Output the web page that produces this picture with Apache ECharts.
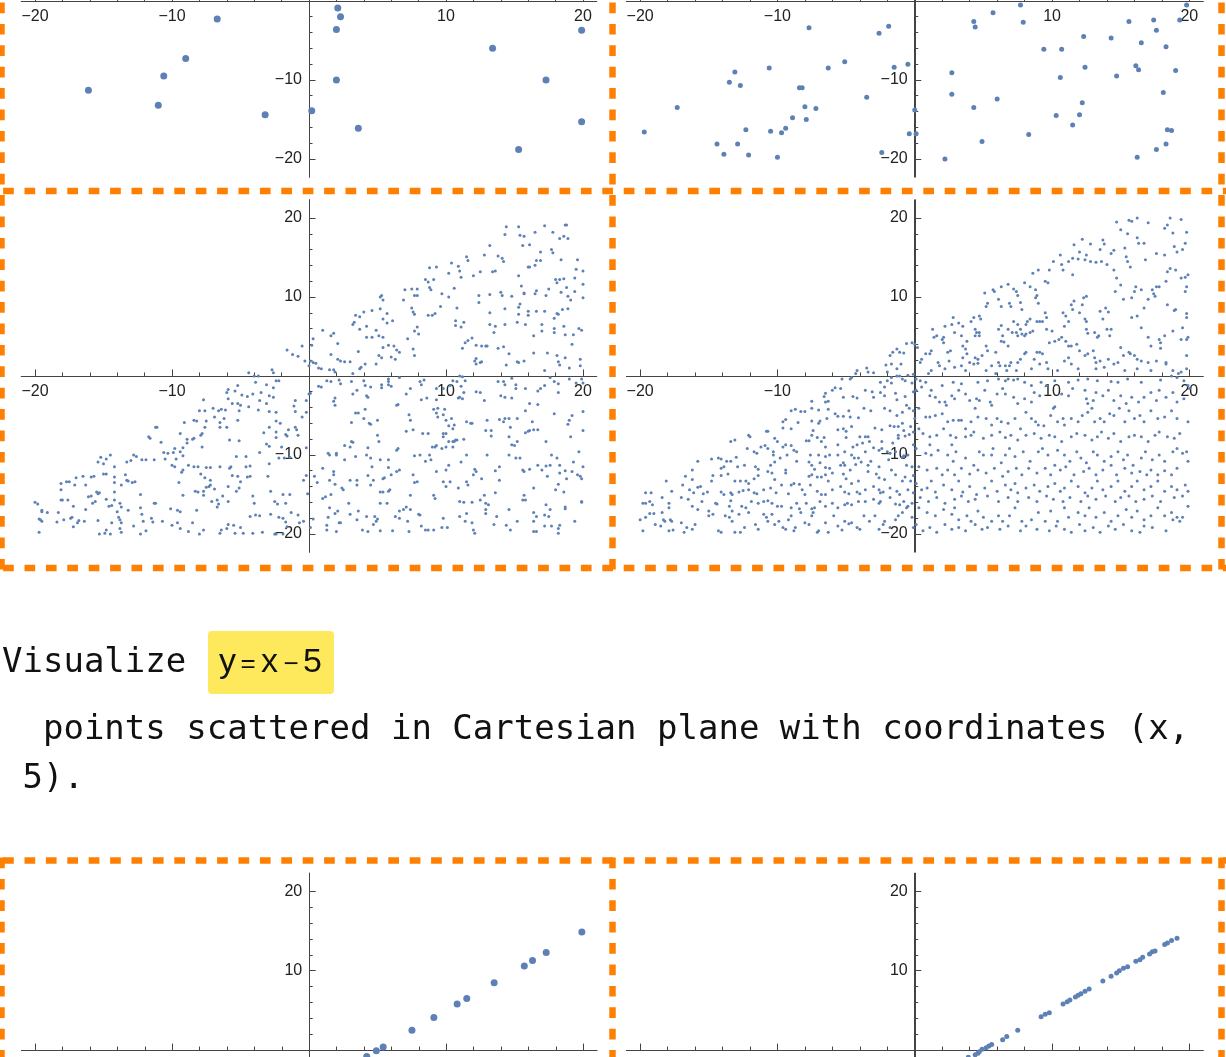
<!DOCTYPE html>
<html><head><meta charset="utf-8">
<script src="https://cdn.jsdelivr.net/npm/echarts@6/dist/echarts.min.js"></script>
<style>html,body{margin:0;padding:0;background:#fff}#c{width:1226px;height:1057px}</style>
</head><body><div id="c"></div>
<script>
// ---------- DATA ----------
const majorTicks = [-20, -10, 10, 20];
const minorTicks = [-18, -16, -14, -12, -8, -6, -4, -2, 2, 4, 6, 8, 12, 14, 16, 18];

const promptWord = 'Visualize';
const promptFormula = ['y', '=', 'x', '\u2212', '5'];
const promptLine2 = '  points scattered in Cartesian plane with coordinates (x,';
const promptLine3 = ' 5).';

// row 1 (only the lower half is visible)
const topLeftPoints = [[-6.7,-2.3],[-9.0,-7.3],[-10.6,-9.5],[-16.1,-11.3],[-11.0,-13.2],[-3.2,-14.4],[0.2,-13.9],[2.1,-0.9],[2.3,-2.0],[2.0,-3.6],[2.0,-10.0],[3.6,-16.1],[13.4,-6.0],[19.9,-3.7],[17.3,-10.0],[19.9,-15.3],[15.3,-18.8]];
const topRightPoints = [[-19.7,-16.6],[-17.3,-13.5],[-14.4,-18.1],[-13.9,-19.4],[-13.5,-10.3],[-13.1,-9.0],[-12.7,-10.7],[-12.9,-18.1],[-12.3,-16.3],[-12.1,-19.5],[-10.6,-8.5],[-10.5,-16.5],[-10.0,-19.8],[-9.7,-16.7],[-9.4,-16.1],[-8.9,-14.8],[-8.4,-11.0],[-8.2,-11.0],[-8.0,-13.4],[-7.9,-15.0],[-7.7,-3.4],[-7.2,-13.6],[-6.3,-8.5],[-5.1,-7.7],[-3.5,-12.2],[-2.6,-4.1],[-1.9,-3.2],[-2.4,-19.2],[-1.5,-8.4],[-0.5,-8.0],[-0.4,-16.8],[0.0,-13.8],[0.1,-16.8],[2.2,-20.0],[2.7,-9.1],[2.7,-11.8],[4.3,-2.6],[4.4,-3.3],[4.3,-13.5],[4.9,-17.8],[5.7,-1.5],[6.0,-12.4],[7.7,-0.5],[7.9,-2.7],[8.3,-16.9],[9.4,-6.1],[10.7,-6.1],[10.6,-9.7],[10.3,-14.5],[11.5,-15.7],[12.0,-14.4],[12.2,-12.9],[12.3,-4.5],[12.4,-8.4],[14.3,-4.7],[14.7,-9.5],[15.6,-2.6],[16.1,-8.2],[16.3,-8.7],[16.5,-5.3],[16.2,-19.8],[17.4,-2.4],[17.6,-3.7],[17.6,-18.8],[18.1,-11.6],[18.3,-5.8],[18.3,-18.1],[18.4,-16.3],[18.7,-16.4],[19.0,-8.8],[19.3,-2.4],[19.8,-0.5]];

// row 2 dense panels: flat [x, y, x, y, ...] lists in tenths of a unit
const denseLeftTenths = [
-5,38,-16,33,-12,27,-8,25,-3,19,0,13,-44,4,-40,0,-37,0,-27,8,-26,4,-24,-6,-22,-6,-39,-8,-31,-11,
-52,-12,-59,-17,-60,-21,-54,-19,-49,-24,-41,-23,-35,-21,-29,-25,-26,-27,-26,-15,-59,-29,-56,-35,-52,-35,-50,-37,-45,-26,-36,-31,-31,-35,-10,-31,-2,-31,-77,-30,-11,-38,
-80,-44,-76,-44,-70,-41,-66,-44,-64,-42,-61,-43,-51,-44,-44,-39,-37,-43,-29,-45,-24,-46,-10,-45,-5,-52,-84,-56,-82,-57,-75,-57,-69,-52,-62,-54,-65,-59,-52,-56,-24,-57,-21,-60,-2,-46,-91,-59,-76,-65,-65,-65,-60,-65,-29,-65,-10,-65,-9,-68,-112,-65,-111,-65,
-117,-77,-116,-79,-108,-84,-94,-73,-89,-80,-85,-80,-84,-79,-79,-75,-78,-73,-78,-90,-58,-81,-51,-82,-33,-72,-24,-71,-17,-74,-16,-76,-24,-78,-15,-68,-8,-75,-98,-92,-92,-91,-89,-85,-31,-86,-29,-89,-20,-90,-2,-91,
-152,-103,-148,-105,-145,-100,-128,-100,-126,-102,-122,-106,-119,-106,-113,-106,-106,-97,-103,-98,-105,-105,-99,-97,-97,-105,-92,-101,-94,-96,-100,-113,-98,-115,-92,-119,-88,-113,-84,-115,-81,-115,-75,-116,-72,-116,-65,-115,-58,-117,-57,-115,-53,-102,-46,-102,-46,-115,-43,-114,-36,-97,-29,-111,-22,-104,-18,-104,-30,-127,-14,-103,-4,-132,-2,-126,-93,-122,-79,-124,-76,-129,-72,-132,-56,-126,-52,-127,-45,-128,-43,-127,-133,-109,-130,-107,-154,-109,-150,-111,-142,-115,-150,-124,-148,-124,-159,-128,-157,-127,-165,-127,-170,-129,-177,-134,-175,-134,-181,-136,-171,-138,-163,-138,-142,-128,-142,-135,-134,-125,-133,-132,-132,-133,-129,-135,-127,-134,-137,-138,-95,-135,-72,-138,-73,-140,-81,-147,-77,-146,-75,-141,-69,-143,-59,-140,-53,-146,-51,-142,-50,-134,
-181,-144,-181,-157,-180,-157,-176,-157,-172,-165,-159,-152,-155,-147,-154,-149,-153,-148,-156,-159,-158,-161,-148,-156,-142,-147,-142,-157,-146,-165,-144,-164,-138,-161,-137,-166,-132,-170,-123,-150,-123,-167,-113,-161,-112,-161,-92,-151,-83,-146,-77,-151,-71,-159,-67,-157,-66,-162,-67,-166,-63,-152,-59,-159,-41,-152,-40,-161,-28,-146,-25,-159,-23,-162,-17,-161,-19,-150,-14,-150,-1,-149,-200,-160,-198,-162,-195,-170,-195,-172,-183,-173,-184,-185,-163,-169,-161,-153,
-197,-181,-196,-182,-195,-184,-191,-173,-197,-198,-179,-182,-174,-180,-173,-179,-172,-191,-169,-186,-168,-183,-164,-184,-154,-183,-140,-172,-139,-179,-138,-182,-137,-186,-144,-186,-148,-195,-149,-199,-145,-200,-153,-200,-138,-193,-137,-198,-128,-190,-123,-200,-121,-184,-122,-175,-119,-196,-115,-180,-114,-185,-107,-184,-101,-168,-96,-170,-94,-172,-100,-189,-96,-186,-94,-193,-88,-197,-85,-186,-82,-170,-80,-200,-77,-195,-65,-199,-64,-195,-60,-193,-59,-188,-55,-189,-50,-192,-54,-199,-48,-199,-43,-178,-39,-176,-36,-177,-41,-199,-34,-198,-28,-175,-25,-200,-22,-179,-19,-180,-17,-185,-16,-191,-13,-173,-8,-176,-7,-186,-4,-184,-19,-200,-24,-200,
144,189,153,189,143,179,154,178,157,177,165,182,172,190,178,182,187,191,188,191,183,174,186,177,189,174,156,165,161,166,132,165,177,160,178,156,169,157,128,153,138,152,141,149,142,145,115,151,116,146,104,143,109,139,110,133,111,125,102,130,120,127,125,132,134,132,136,133,160,138,161,138,166,146,169,146,165,140,184,147,196,147,195,135,200,133,194,124,200,116,180,122,183,122,186,123,181,118,184,106,188,112,189,101,194,107,200,99,191,96,189,85,185,84,181,79,182,78,179,73,175,110,166,108,165,104,173,102,155,114,157,105,157,104,153,127,140,106,141,102,148,101,124,102,124,93,132,103,143,85,154,91,153,87,160,77,166,82,172,82,153,78,160,82,170,65,170,57,179,60,179,55,186,63,187,52,193,52,197,60,199,58,192,40,164,51,158,65,152,68,143,65,132,80,132,65,135,55,136,63,142,37,146,28,164,29,174,29,181,26,187,23,182,18,183,14,190,10,198,21,198,13,172,7,157,19,153,17,152,18,144,14,138,35,129,38,130,38,126,38,125,17,122,22,121,19,122,15,126,18,116,45,114,42,112,35,119,48,122,39,113,68,111,62,107,70,107,64,108,86,106,111,102,100,97,104,96,88,92,79,87,77,90,77,88,112,93,138,88,137,85,122,87,119,89,109,91,122,79,110,75,110,77,102,79,102,70,109,69,96,75,86,76,81,77,78,79,62,77,57,80,53,72,47,76,34,77,26,64,33,66,30,63,21,58,39,62,38,60,24,53,102,52,100,54,96,52,85,57,79,57,67,54,72,61,70,51,51,54,49,54,36,51,26,53,23,49,15,46,83,40,81,37,75,34,77,32,65,33,68,42,63,42,49,49,58,46,49,37,59,36,31,32,3,37,9,38,11,41,15,30,18,21,21,23,19,26,18,16,27,18,54,16,51,21,41,10,58,3,47,2,39,1,19,3,17,5,16,7,10,9,9,15,8,18,8,19,5,
13,-6,16,-7,22,-5,23,-10,7,-13,9,-14,1,-22,0,-23,19,-28,18,-32,19,-37,31,-7,40,-6,41,-12,45,-14,35,-18,32,-23,42,-25,43,-27,58,-4,58,-7,58,-11,60,-13,53,-11,53,-15,66,-2,71,-23,64,-37,65,-36,74,-16,81,-7,84,-5,82,-11,82,-30,86,-28,93,-30,94,-41,91,-42,93,-47,94,-52,99,-42,98,-49,73,-49,74,-56,93,-16,98,-16,103,-12,105,-6,108,-7,110,0,112,-1,114,-6,111,-13,113,-21,110,-27,109,-28,112,-29,122,-20,125,-21,128,-31,138,-7,142,-7,143,-11,151,-11,151,-16,148,-3,140,-25,143,-27,148,-28,158,-16,167,-19,169,-16,172,-12,176,-2,182,-10,182,-21,179,-7,190,-4,195,-9,200,-9,199,-4,161,-35,167,-36,158,-44,179,-48,200,-45,192,-50,190,-56,189,-61,191,-77,200,-69,133,-69,133,-76,130,-56,129,-69,139,-55,143,-54,142,-58,146,-54,152,-54,147,-65,146,-77,146,-100,148,-87,150,-88,152,-83,151,-104,154,-104,158,-72,160,-70,161,-69,163,-58,164,-68,167,-68,173,-83,156,-119,161,-118,167,-113,170,-119,173,-114,177,-100,174,-127,183,-123,187,-120,188,-130,183,-113,193,-109,197,-96,200,-115,192,-121,196,-125,199,-130,198,-127,182,-137,180,-144,186,-147,199,-159,199,-160,187,-166,187,-168,173,-163,176,-169,175,-178,172,-176,166,-178,164,-184,164,-197,166,-197,172,-190,177,-190,182,-193,182,-199,183,-189,194,-184,164,-173,157,-151,158,-157,157,-121,152,-184,147,-195,144,-189,146,-169,139,-132,136,-120,139,-115,136,-148,129,-161,131,-163,129,-169,129,-174,125,-157,121,-118,122,-121,126,-130,120,-125,128,-151,120,-195,121,-199,119,-186,115,-174,114,-184,119,-160,113,-160,110,-159,110,-178,116,-138,115,-134,111,-109,109,-142,115,-100,108,-81,106,-83,107,-81,105,-67,106,-62,100,-73,102,-63,102,-83,105,-90,105,-83,113,-80,118,-60,119,-60,115,-58,100,-56,104,-54,102,-113,100,-119,103,-134,100,-140,98,-134,97,-192,101,-192,98,-180,91,-151,92,-155,93,-121,88,-100,85,-108,89,-106,92,-90,90,-90,93,-88,97,-92,100,-90,98,-77,98,-73,87,-73,83,-73,76,-68,71,-70,81,-100,77,-101,76,-125,79,-134,77,-135,74,-151,71,-166,74,-169,80,-175,81,-176,72,-184,73,-197,82,-190,85,-195,87,-195,91,-195,61,-196,63,-178,66,-180,66,-171,69,-169,57,-161,52,-161,58,-146,59,-144,54,-147,52,-147,54,-130,55,-129,60,-125,64,-121,66,-119,58,-116,65,-92,64,-94,58,-106,52,-106,46,-115,45,-104,51,-83,42,-100,43,-91,44,-60,45,-61,50,-56,50,-75,40,-54,41,-42,31,-59,34,-47,36,-47,26,-88,31,-83,32,-84,30,-90,34,-102,26,-106,20,-100,20,-98,14,-98,15,-100,18,-121,18,-125,19,-137,24,-142,25,-144,15,-132,10,-117,4,-127,6,-135,12,-153,16,-150,10,-155,30,-132,35,-132,35,-138,43,-126,47,-132,45,-138,42,-178,48,-178,50,-181,49,-184,52,-196,47,-188,39,-195,43,-197,36,-171,35,-182,30,-175,29,-161,21,-171,19,-174,15,-167,14,-179,22,-186,23,-186,20,-197,13,-195,13,-189,3,-181,1,-192,135,-188,137,-178,164,-142,156,-157,181,-104,176,-113,130,-100
];

const denseRightTenths = [
-6,41,-2,42,-13,34,-16,30,-11,30,-8,29,-18,26,-21,14,-17,15,-10,15,-13,9,-42,7,-35,10,-34,5,-30,4,-43,3,-20,5,-17,-2,-13,0,-11,0,-9,-4,-5,1,-1,2,-53,-4,-47,-4,-46,-2,-25,-8,-20,-6,-22,-14,-17,-9,-7,-6,-2,-9,
-58,-15,-54,-16,-60,-18,-65,-22,-66,-26,-75,-32,-65,-33,-63,-32,-52,-27,-45,-26,-42,-28,-36,-18,-31,-20,-30,-27,-25,-21,-22,-25,-14,-22,-13,-30,-7,-26,-1,-20,-6,-37,-4,-41,-1,-44,
-90,-44,-87,-42,-83,-45,-80,-45,-75,-41,-70,-43,-63,-42,-58,-48,-56,-51,-52,-51,-48,-44,-47,-52,-41,-53,-37,-41,-32,-44,-22,-41,-18,-44,-13,-50,-9,-46,0,-54,
-96,-58,-94,-55,-96,-66,-90,-67,-85,-59,-75,-57,-70,-60,-69,-57,-64,-54,-56,-68,-52,-67,-50,-70,-46,-64,-40,-77,-36,-77,-34,-77,-29,-66,-24,-68,-18,-63,-15,-64,-12,-64,-9,-60,-8,-69,-3,-64,-1,-71,
-108,-70,-107,-70,-102,-79,-100,-83,-94,-87,-90,-88,-79,-82,-77,-82,-75,-75,-74,-69,-71,-78,-68,-83,-66,-78,-65,-90,-56,-87,-50,-78,-45,-90,-42,-87,-38,-85,-33,-83,-30,-91,-24,-83,-16,-85,-12,-79,-12,-75,-7,-76,-4,-74,-1,-87,
-121,-75,-120,-77,-134,-83,-131,-81,-122,-92,-117,-96,-115,-98,-112,-90,-109,-88,-107,-92,-103,-96,-96,-90,-103,-100,-93,-100,-88,-94,-86,-96,-76,-100,-70,-100,-65,-102,-62,-100,-56,-100,-51,-96,-46,-100,-44,-104,-41,-104,-36,-96,-26,-94,-24,-92,-20,-96,-18,-98,-14,-96,-8,-101,-5,-100,
-148,-105,-143,-104,-141,-105,-137,-108,-134,-108,-158,-108,-130,-103,-141,-117,-139,-115,-129,-115,-124,-113,-116,-115,-114,-118,-105,-113,-102,-109,-98,-104,-94,-119,-86,-108,-77,-109,-75,-113,-73,-118,-69,-110,-65,-116,-62,-117,-54,-113,-52,-110,-51,-113,-47,-119,-43,-112,-39,-109,-34,-113,-32,-108,-26,-115,-19,-106,-17,-119,-9,-103,-6,-113,-2,-115,
-162,-119,-167,-127,-162,-131,-148,-133,-147,-126,-141,-126,-136,-124,-131,-133,-127,-133,-123,-133,-121,-136,-117,-130,-114,-126,-107,-121,-104,-123,-102,-131,-94,-123,-88,-136,-84,-137,-77,-127,-75,-125,-71,-128,-68,-128,-65,-125,-63,-133,-60,-123,-52,-124,-50,-130,-46,-136,-41,-133,-34,-121,-28,-124,-26,-129,-22,-131,-14,-125,-9,-133,-7,-128,-3,-133,-1,-126,
-181,-133,-177,-146,-169,-138,-164,-144,-161,-148,-158,-141,-156,-140,-154,-149,-151,-147,-141,-147,-139,-150,-134,-148,-133,-150,-128,-147,-125,-145,-121,-144,-117,-148,-115,-149,-110,-144,-105,-142,-101,-148,-97,-138,-92,-149,-90,-138,-82,-144,-80,-150,-76,-138,-71,-146,-68,-150,-65,-150,-60,-144,-54,-140,-51,-147,-48,-149,-42,-147,-40,-149,-36,-144,-30,-140,-26,-144,-25,-148,-23,-147,-18,-142,-13,-146,-11,-150,-5,-144,-1,-148,
-196,-148,-192,-148,-198,-161,-196,-161,-193,-159,-191,-163,-184,-154,-179,-161,-179,-167,-170,-154,-165,-156,-162,-165,-155,-159,-145,-161,-144,-162,-134,-158,-135,-165,-133,-171,-126,-165,-123,-167,-119,-159,-114,-161,-110,-159,-107,-158,-104,-161,-100,-165,-97,-165,-90,-167,-86,-161,-84,-168,-79,-161,-75,-168,-73,-167,-69,-159,-65,-165,-60,-161,-56,-167,-51,-163,-49,-161,-46,-163,-41,-159,-36,-159,-30,-156,-26,-161,-25,-159,-18,-154,-14,-162,-11,-163,-8,-159,-5,-165,-2,-161,
-200,-182,-198,-196,-196,-179,-193,-174,-190,-174,-189,-188,-185,-190,-184,-173,-183,-182,-182,-184,-179,-196,-178,-182,-177,-184,-176,-195,-170,-186,-168,-198,-166,-192,-162,-194,-160,-188,-158,-169,-150,-171,-150,-177,-147,-175,-143,-196,-141,-198,-138,-177,-135,-179,-133,-184,-131,-198,-128,-175,-127,-198,-124,-192,-121,-173,-116,-188,-114,-194,-110,-175,-108,-179,-107,-184,-104,-175,-102,-188,-99,-184,-96,-192,-94,-194,-92,-182,-90,-177,-88,-196,-87,-192,-83,-173,-80,-186,-77,-188,-75,-177,-74,-173,-71,-198,-70,-196,-65,-186,-63,-198,-59,-177,-56,-190,-53,-195,-51,-184,-48,-187,-46,-186,-42,-192,-40,-194,-37,-177,-33,-184,-29,-177,-26,-194,-23,-188,-22,-184,-18,-192,-14,-182,-12,-177,-9,-173,-6,-167,-2,-179,-1,-192,
156,197,158,196,162,200,170,194,186,200,194,198,184,191,182,187,188,181,198,182,147,195,150,185,155,180,162,175,167,168,163,168,153,162,145,159,137,172,138,167,143,155,135,160,128,167,122,173,116,166,120,157,125,153,124,147,119,148,115,149,112,145,106,153,107,141,101,145,98,134,108,134,115,128,128,145,132,144,136,145,140,141,145,134,147,124,154,151,155,145,157,138,168,147,176,155,182,153,189,164,191,157,195,160,197,168,184,132,186,136,190,134,194,124,197,125,199,128,198,113,197,107,183,120,176,113,178,113,173,109,174,104,175,101,170,97,167,86,161,113,165,109,160,107,158,99,152,97,146,107,150,115,158,74,162,76,165,61,170,49,172,38,178,46,179,42,179,35,182,51,188,57,189,83,190,84,184,90,198,79,198,74,195,61,194,46,198,46,199,49,198,26,183,15,183,17,176,19,170,17,165,19,162,21,160,26,157,28,156,30,150,36,152,26,145,15,148,17,141,21,142,51,143,59,140,59,137,72,141,81,135,82,139,86,131,55,133,49,134,51,130,32,131,23,132,17,132,9,124,26,126,28,120,32,118,40,124,72,125,69,125,59,126,54,120,80,122,90,123,99,125,101,116,95,114,90,115,84,110,76,112,69,109,63,108,80,105,46,107,49,102,44,110,44,112,38,114,38,100,57,98,42,96,59,96,74,95,80,93,69,91,69,89,69,86,57,84,55,81,53,80,51,78,53,75,51,74,55,71,55,77,59,75,65,72,69,68,59,64,51,63,44,65,43,68,38,63,64,61,59,70,88,69,92,72,110,74,107,75,102,68,116,63,113,58,107,57,109,61,97,63,88,77,93,78,84,81,65,82,69,84,72,88,109,89,102,90,92,88,99,84,113,80,118,86,130,90,134,95,120,97,118,52,88,53,92,51,105,47,76,48,72,47,55,47,51,46,21,44,23,49,26,53,32,52,38,59,30,61,17,62,13,66,13,69,13,67,7,70,17,75,17,77,21,80,28,81,30,87,21,89,30,91,30,93,28,96,17,97,9,104,7,109,19,112,23,114,15,119,9,43,74,41,69,44,59,44,51,45,55,35,38,37,34,38,28,35,23,40,17,43,15,46,16,34,51,38,44,32,67,35,63,29,55,28,74,27,65,22,63,21,49,20,46,21,42,16,51,14,49,13,59,12,32,11,28,17,17,18,13,24,30,26,32,25,19,8,28,5,21,4,17,0,40,2,36,10,3,12,7,22,9,29,11,34,13,37,7,52,7,56,13,59,3,74,7,85,9,91,15,135,19,138,11,153,7,162,9,172,7,188,7,192,3,194,5,198,9,
1,-4,4,-6,8,-8,5,-14,1,-18,12,-18,20,-12,28,-8,34,-10,46,-8,53,-6,61,-4,66,-6,68,-4,72,-5,75,-4,80,-8,85,-12,92,-8,96,-12,102,-6,112,-8,119,-5,126,-4,133,-6,143,-7,148,-8,155,-4,165,-8,179,-5,187,0,191,-2,196,-6,199,-12,11,-25,15,-27,18,-33,22,-33,23,-37,27,-25,29,-29,32,-18,37,-23,40,-31,45,-29,47,-31,44,-41,51,-18,55,-33,56,-37,60,-23,64,-16,66,-23,72,-27,75,-35,80,-29,85,-33,87,-21,91,-25,102,-39,107,-23,112,-25,115,-16,124,-18,125,-29,126,-35,130,-31,132,-21,137,-25,141,-18,145,-31,150,-25,154,-35,158,-27,163,-33,167,-27,172,-21,176,-31,178,-18,183,-27,188,-21,191,-33,196,-29,200,-16,
3,-41,8,-52,11,-52,15,-50,20,-48,24,-58,28,-56,32,-56,34,-56,37,-67,41,-58,43,-71,46,-52,52,-54,56,-62,60,-54,63,-58,68,-60,73,-54,77,-67,81,-46,85,-54,88,-58,90,-62,94,-63,99,-50,101,-41,104,-58,108,-54,109,-62,114,-54,119,-58,122,-50,126,-46,129,-41,131,-58,135,-54,138,-58,142,-48,145,-50,149,-41,153,-58,156,-44,160,-54,164,-50,167,-58,172,-44,177,-54,182,-52,187,-44,191,-54,199,-58,3,-67,6,-73,11,-77,16,-75,21,-67,26,-75,27,-87,30,-78,37,-77,41,-75,50,-79,56,-75,62,-71,66,-78,70,-75,75,-81,81,-75,87,-73,92,-79,98,-75,102,-77,107,-83,114,-77,118,-73,124,-75,129,-81,133,-77,136,-71,141,-79,145,-73,150,-83,156,-77,160,-75,165,-77,170,-83,175,-75,178,-71,184,-77,189,-79,193,-73,
1,-92,8,-98,11,-87,12,-100,17,-94,24,-100,28,-108,30,-96,37,-104,43,-113,47,-96,50,-100,56,-100,57,-92,63,-110,66,-100,69,-92,73,-102,79,-96,84,-108,90,-96,93,-92,97,-100,102,-113,104,-94,109,-100,113,-108,118,-96,121,-104,125,-110,130,-96,133,-100,138,-108,143,-102,148,-96,152,-106,155,-100,159,-113,165,-104,168,-96,173,-106,178,-100,182,-108,188,-96,191,-92,195,-98,198,-96,199,-108,3,-115,9,-119,16,-117,20,-125,24,-119,29,-125,34,-117,40,-124,46,-119,52,-123,58,-117,64,-127,68,-121,74,-117,78,-125,83,-117,89,-123,95,-117,99,-125,106,-119,110,-115,116,-125,123,-121,127,-117,132,-125,137,-119,143,-113,147,-125,153,-117,158,-123,164,-121,169,-125,172,-119,177,-125,182,-120,187,-125,191,-117,
1,-136,5,-144,9,-142,12,-133,15,-147,21,-138,27,-144,32,-133,35,-147,40,-140,45,-150,51,-142,56,-133,60,-146,66,-138,70,-144,73,-136,75,-148,81,-142,87,-138,91,-146,97,-140,102,-136,106,-146,109,-142,114,-133,119,-140,124,-148,129,-142,133,-133,137,-144,143,-140,148,-133,153,-146,158,-140,162,-133,167,-144,172,-140,177,-133,182,-146,187,-140,191,-144,197,-138,199,-146,4,-154,10,-159,16,-154,22,-161,29,-156,34,-152,39,-159,44,-156,53,-152,61,-159,68,-154,75,-159,83,-154,89,-159,96,-152,101,-156,108,-159,113,-154,121,-159,126,-152,132,-156,139,-152,146,-159,150,-154,156,-152,161,-159,167,-156,173,-152,179,-159,189,-154,195,-152,
3,-167,9,-173,15,-177,21,-169,27,-175,29,-167,32,-182,38,-177,41,-184,46,-171,50,-179,56,-184,61,-177,64,-184,69,-177,73,-167,78,-184,85,-182,90,-173,95,-184,99,-171,104,-184,109,-167,112,-179,119,-173,124,-177,127,-167,132,-179,138,-173,143,-184,148,-177,154,-169,158,-179,162,-171,167,-182,172,-177,177,-167,182,-177,187,-173,191,-179,195,-179,199,-165,1,-188,6,-196,11,-192,16,-198,22,-188,27,-194,32,-192,37,-196,44,-188,49,-194,53,-192,62,-194,68,-190,77,-196,81,-190,89,-194,98,-196,103,-190,109,-194,114,-198,120,-188,124,-196,130,-192,135,-198,141,-190,146,-194,152,-188,158,-196,164,-198,167,-190,173,-192,183,-196,188,-182,193,-184
];

// row 3: points on y = x - 5 (only the upper part is visible)
const bottomLeftPoints = [[4.2,-0.8],[4.9,-0.1],[5.4,0.4],[7.5,2.5],[9.1,4.1],[10.8,5.8],[11.5,6.5],[13.5,8.5],[15.7,10.6],[16.3,11.3],[17.3,12.3],[19.9,14.9]];
const bottomRightPoints = [[3.9,-0.9],[4.4,-0.6],[4.6,-0.4],[4.7,-0.2],[4.9,0.1],[5.2,0.3],[5.4,0.5],[5.6,0.7],[6.4,1.3],[6.7,1.7],[7.5,2.5],[9.2,4.2],[9.5,4.5],[9.8,4.7],[10.8,5.8],[11.1,6.1],[11.3,6.3],[11.7,6.7],[11.9,6.9],[12.1,7.1],[12.4,7.4],[12.7,7.7],[13.7,8.7],[14.3,9.3],[14.7,9.7],[14.9,10.0],[15.2,10.3],[15.5,10.5],[16.1,11.2],[16.4,11.4],[16.6,11.7],[17.1,12.1],[17.3,12.4],[17.5,12.5],[18.2,13.3],[18.4,13.5],[18.7,13.8],[19.1,14.1]];

// ---------- helpers ----------
function fromTenths(flat) {
  const out = [];
  for (let i = 0; i + 1 < flat.length; i += 2) out.push([flat[i] / 10, flat[i + 1] / 10]);
  return out;
}
const fmt = v => (v < 0 ? '\u2212' + Math.abs(v) : String(v));

const AX = '#444';
const DOT = '#5E81B5';
const panels = [
  { box: { left: 21.3, top: -175.2, width: 575.4, height: 352.3 }, data: topLeftPoints, size: 7 },
  { box: { left: 626.4, top: -175.2, width: 576.7, height: 352.3 }, data: topRightPoints, size: 5 },
  { box: { left: 21.3, top: 199.8, width: 575.4, height: 352.3 }, data: fromTenths(denseLeftTenths), size: 3 },
  { box: { left: 626.4, top: 199.8, width: 576.7, height: 352.3 }, data: fromTenths(denseRightTenths), size: 3 },
  { box: { left: 21.5, top: 873.2, width: 575.4, height: 353.7 }, data: bottomLeftPoints, size: 7 },
  { box: { left: 626.4, top: 873.2, width: 576.7, height: 353.7 }, data: bottomRightPoints, size: 5 }
];

const grid = [], xAxis = [], yAxis = [], series = [];
panels.forEach((p, g) => {
  grid.push(Object.assign({ containLabel: false, outerBoundsMode: 'none' }, p.box));
  // axes cross at the origin, which is the centre of each (symmetric) plot box
  const xOff = -p.box.height / 2, yOff = -p.box.width / 2;
  const labelStyle = { fontFamily: 'Liberation Sans', fontSize: 16, color: '#222', formatter: fmt, customValues: majorTicks };
  const xMaj = 2 * g, yMaj = 2 * g;
  xAxis.push({
    type: 'value', gridIndex: g, min: -21, max: 21, position: 'bottom', offset: xOff,
    axisLine: { onZero: false, lineStyle: { color: AX, width: 1 } },
    axisTick: { inside: true, length: 6.5, customValues: majorTicks, lineStyle: { color: AX, width: 1 } },
    axisLabel: Object.assign({ margin: 8 }, labelStyle),
    splitLine: { show: false }
  });
  xAxis.push({
    type: 'value', gridIndex: g, min: -21, max: 21, position: 'top', offset: xOff,
    axisLine: { onZero: false, lineStyle: { color: AX, width: 1 } },
    axisTick: { inside: false, length: 3.5, customValues: minorTicks, lineStyle: { color: AX, width: 1 } },
    axisLabel: { show: false }, splitLine: { show: false }
  });
  yAxis.push({
    type: 'value', gridIndex: g, min: -22.3, max: 22.3, position: 'left', offset: yOff,
    axisLine: { onZero: false, lineStyle: { color: AX, width: 1 } },
    axisTick: { inside: true, length: 6.5, customValues: majorTicks, lineStyle: { color: AX, width: 1 } },
    axisLabel: Object.assign({ margin: 7 }, labelStyle),
    splitLine: { show: false }
  });
  yAxis.push({
    type: 'value', gridIndex: g, min: -22.3, max: 22.3, position: 'right', offset: yOff,
    axisLine: { onZero: false, lineStyle: { color: AX, width: 1 } },
    axisTick: { inside: false, length: 3.5, customValues: minorTicks, lineStyle: { color: AX, width: 1 } },
    axisLabel: { show: false }, splitLine: { show: false }
  });
  series.push({
    type: 'scatter', xAxisIndex: xMaj, yAxisIndex: yMaj, data: p.data,
    symbol: 'circle', symbolSize: p.size, itemStyle: { color: DOT, opacity: 1 }, silent: true, z: 3
  });
});

// dashed orange cell dividers
const ORANGE = '#FF8000';
const dash = (x1, y1, x2, y2) => ({
  type: 'line', silent: true, z: 10,
  shape: { x1, y1, x2, y2 },
  style: { stroke: ORANGE, lineWidth: 6.5, lineDash: [10.7, 10.7] }
});
const graphics = [
  // vertical dividers, rows 1-2
  dash(1.5, -18.9, 1.5, 571), dash(612.5, -18.9, 612.5, 571), dash(1221.5, -18.9, 1221.5, 571),
  // horizontal dividers
  dash(-18.3, 191, 1240, 191), dash(-18.3, 568, 1240, 568), dash(-18.3, 860.5, 1240, 860.5),
  // vertical dividers, row 3
  dash(1.5, 857.5, 1.5, 1070), dash(612.5, 857.5, 612.5, 1070), dash(1221.5, 857.5, 1221.5, 1070),
  { type: 'rect', silent: true, shape: { x: 208, y: 631, width: 126, height: 63, r: 4 }, style: { fill: '#FDE95B' } },
  { type: 'text', silent: true, x: 2, y: 663, style: { text: promptWord, font: '34px "DejaVu Sans Mono"', fill: '#111', verticalAlign: 'middle' } },
  { type: 'text', silent: true, x: 219, y: 663, style: { text: promptFormula[0], font: '34px "Liberation Sans"', fill: '#111', verticalAlign: 'middle' } },
  { type: 'text', silent: true, x: 248, y: 665, style: { text: promptFormula[1], font: '26px "Liberation Sans"', fill: '#111', align: 'center', verticalAlign: 'middle' } },
  { type: 'text', silent: true, x: 261, y: 663, style: { text: promptFormula[2], font: '34px "Liberation Sans"', fill: '#111', verticalAlign: 'middle' } },
  { type: 'text', silent: true, x: 291, y: 665, style: { text: promptFormula[3], font: '26px "Liberation Sans"', fill: '#111', align: 'center', verticalAlign: 'middle' } },
  { type: 'text', silent: true, x: 303, y: 663, style: { text: promptFormula[4], font: '34px "Liberation Sans"', fill: '#111', verticalAlign: 'middle' } },
  { type: 'text', silent: true, x: 2, y: 730, style: { text: promptLine2, font: '34px "DejaVu Sans Mono"', fill: '#111', verticalAlign: 'middle' } },
  { type: 'text', silent: true, x: 2, y: 779, style: { text: promptLine3, font: '34px "DejaVu Sans Mono"', fill: '#111', verticalAlign: 'middle' } }
];

const chart = echarts.init(document.getElementById('c'), null, { renderer: 'canvas' });
chart.setOption({
  backgroundColor: '#ffffff',
  animation: false,
  grid, xAxis, yAxis, series,
  graphic: { elements: graphics }
});
</script>
</body></html>
